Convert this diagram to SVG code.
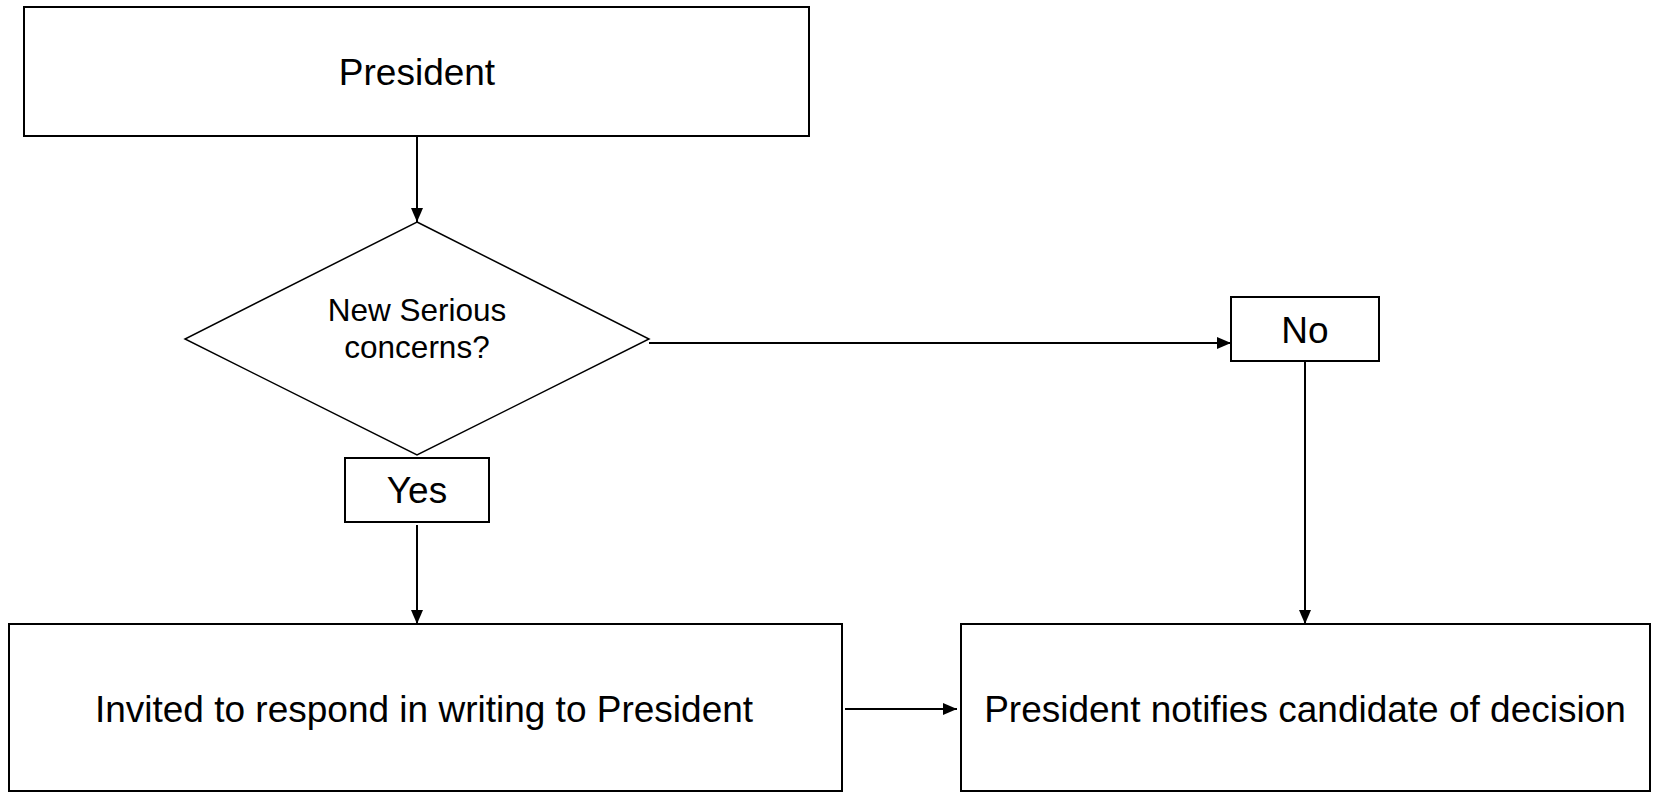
<svg xmlns="http://www.w3.org/2000/svg" width="1654" height="792" viewBox="0 0 1654 792">
<defs>
<style>
.box{fill:#fff;stroke:#000;stroke-width:2}
.dia{fill:#fff;stroke:#000;stroke-width:1.5}
.t{font-family:"Liberation Sans",Arial,sans-serif;font-size:37px;fill:#000;text-anchor:middle}
.ts{font-family:"Liberation Sans",Arial,sans-serif;font-size:31.5px;fill:#000;text-anchor:middle}
.c{stroke:#000;stroke-width:2;fill:none;marker-end:url(#ah)}
</style>
<marker id="ah" viewBox="0 0 14 12" refX="14" refY="6" markerWidth="14" markerHeight="12" markerUnits="userSpaceOnUse" orient="auto">
<path d="M0,0 L14,6 L0,12 Z" fill="#000"/>
</marker>
</defs>
<rect width="1654" height="792" fill="#fff"/>
<g id="connectors">
<line class="c" x1="417" y1="136" x2="417" y2="222"/>
<line class="c" x1="649" y1="343" x2="1231" y2="343"/>
<line class="c" x1="417" y1="525" x2="417" y2="624"/>
<line class="c" x1="1305" y1="362" x2="1305" y2="624"/>
<line class="c" x1="845" y1="709" x2="957" y2="709"/>
</g>
<g id="president">
<rect class="box" x="24" y="7" width="785" height="129"/>
<text class="t" x="417" y="85">President</text>
</g>
<g id="decision">
<polygon class="dia" points="417,222 649,339 417,455 185,339"/>
<text class="ts" x="417" y="321">New Serious</text>
<text class="ts" x="417" y="358">concerns?</text>
</g>
<g id="yes">
<rect class="box" x="345" y="458" width="144" height="64"/>
<text class="t" x="417" y="503">Yes</text>
</g>
<g id="no">
<rect class="box" x="1231" y="297" width="148" height="64"/>
<text class="t" x="1305" y="343">No</text>
</g>
<g id="invited">
<rect class="box" x="9" y="624" width="833" height="167"/>
<text class="t" x="424" y="722">Invited to respond in writing to President</text>
</g>
<g id="notify">
<rect class="box" x="961" y="624" width="689" height="167"/>
<text class="t" x="1305" y="722">President notifies candidate of decision</text>
</g>
</svg>
